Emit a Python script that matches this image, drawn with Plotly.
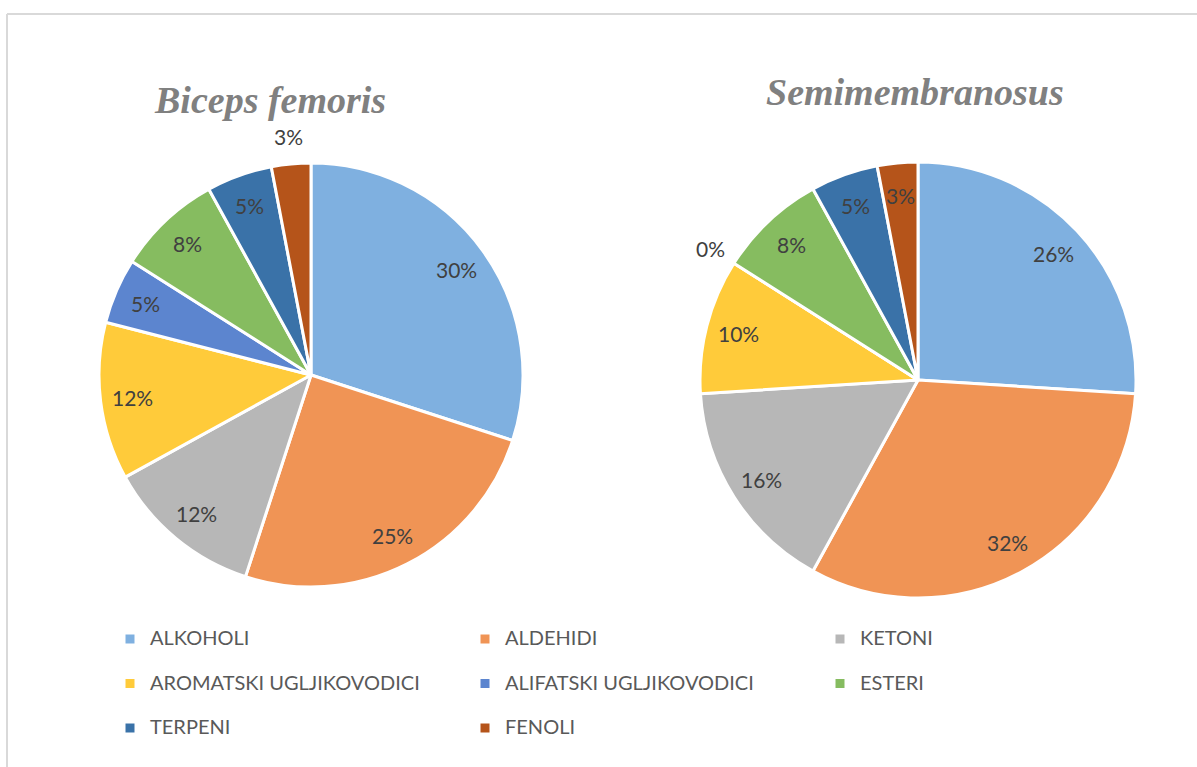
import math
import plotly.graph_objects as go

categories = ["ALKOHOLI", "ALDEHIDI", "KETONI", "AROMATSKI UGLJIKOVODICI",
              "ALIFATSKI UGLJIKOVODICI", "ESTERI", "TERPENI", "FENOLI"]
biceps_values = [30, 25, 12, 12, 5, 8, 5, 3]
semi_values = [26, 32, 16, 10, 0, 8, 5, 3]
titles = ["Biceps femoris", "Semimembranosus"]

colors = ["#7FB0E0", "#F09455", "#B7B7B7", "#FFCB3A",
          "#5C85CF", "#86BC60", "#3A72A8", "#B5541A"]

W, H = 1197, 767
LABEL_FONT = dict(family="Lato, Open Sans, sans-serif", size=21, color="#404040")

# pie geometry (pixel centre, radius) -- layout only
pies = [
    dict(values=biceps_values, cx=311, cy=375, r=212, title=titles[0], tx=270, ty=100,
         outside=[False] * 7 + [True]),
    dict(values=semi_values, cx=918, cy=380, r=218, title=titles[1], tx=915, ty=92,
         outside=[False] * 4 + [True] + [False] * 3),
]

legend_names = [f"<span style='font-size:20px'>{c}</span><br> " for c in categories]

fig = go.Figure()

for p in pies:
    cx, cy, r = p["cx"], p["cy"], p["r"]
    fig.add_trace(go.Pie(
        labels=legend_names, values=p["values"], sort=False, direction="clockwise",
        rotation=0,
        domain=dict(x=[(cx - r) / W, (cx + r) / W], y=[(H - cy - r) / H, (H - cy + r) / H]),
        marker=dict(colors=colors, line=dict(color="white", width=3)),
        textinfo="none", customdata=categories,
        hovertemplate="%{customdata}: %{percent:.0%}<extra></extra>",
        showlegend=True,
    ))
    total = sum(p["values"])
    cum = 0
    for v, out in zip(p["values"], p["outside"]):
        mid = (cum + v / 2) / total * 2 * math.pi
        cum += v
        rr = r * (1.13 if out else 0.85)
        x = cx + rr * math.sin(mid)
        y = cy - rr * math.cos(mid)
        fig.add_annotation(
            text=f"{round(v / total * 100)}%", x=x / W, y=(H - y) / H,
            xref="paper", yref="paper", showarrow=False,
            xanchor="center", yanchor="middle", font=LABEL_FONT,
        )
    fig.add_annotation(
        text=f"<b><i>{p['title']}</i></b>", x=p["tx"] / W, y=(H - p["ty"]) / H,
        xref="paper", yref="paper", showarrow=False, xanchor="center", yanchor="middle",
        font=dict(family="Liberation Serif, Times New Roman, serif", size=38, color="#808080"),
    )

# frame lines (top and left)
fig.add_shape(type="line", xref="paper", yref="paper", x0=7 / W, x1=1, y0=(H - 14) / H, y1=(H - 14) / H,
              line=dict(color="#D9D9D9", width=2))
fig.add_shape(type="line", xref="paper", yref="paper", x0=7 / W, x1=7 / W, y0=0, y1=(H - 14) / H,
              line=dict(color="#D9D9D9", width=2))

fig.update_layout(
    width=W, height=H,
    margin=dict(l=0, r=0, t=0, b=0, autoexpand=False),
    paper_bgcolor="white", plot_bgcolor="white",
    legend=dict(
        orientation="h", x=110 / W, y=(H - 622) / H, xanchor="left", yanchor="top",
        entrywidth=310, entrywidthmode="pixels", valign="top",
        font=dict(family="Lato, Open Sans, sans-serif", size=16, color="#595959"),
        traceorder="normal",
    ),
)

fig.write_html("out.html", config={"displayModeBar": False},
               post_script="document.body.style.margin='0px';")
